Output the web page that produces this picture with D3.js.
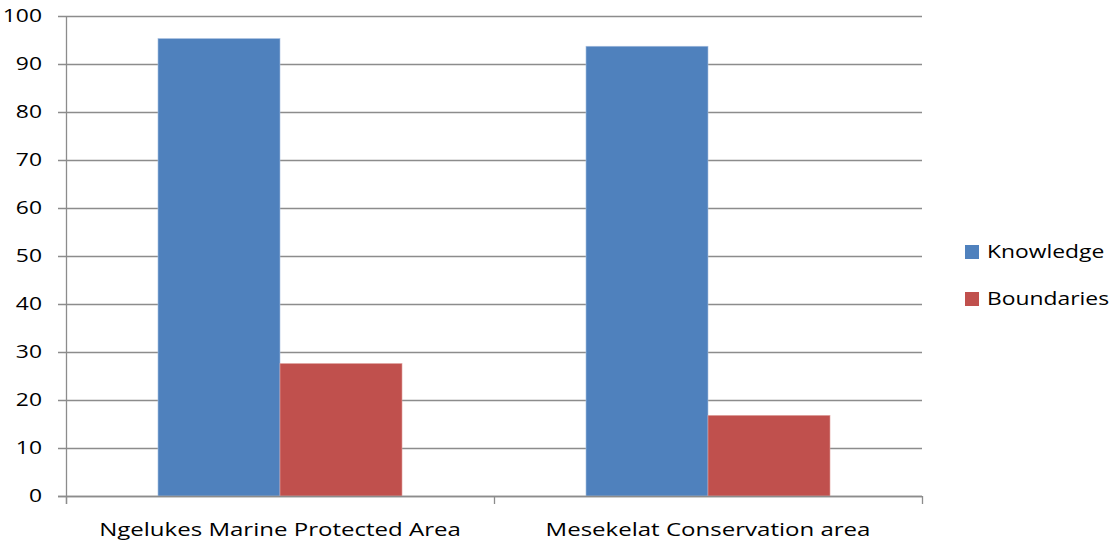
<!DOCTYPE html>
<html><head><meta charset="utf-8">
<script src="https://cdn.jsdelivr.net/npm/d3@7"></script>
<style>body{margin:0;background:#fff}svg text{font-family:"Open Sans",sans-serif;fill:#000}</style>
</head><body><svg id="c" width="1110" height="542"></svg>
<script>
const categories = ["Ngelukes Marine Protected Area", "Mesekelat Conservation area"];
const seriesNames = ["Knowledge", "Boundaries"];
const knowledge = [95.3, 93.7];
const boundaries = [27.6, 16.8];
const yTicks = [0,10,20,30,40,50,60,70,80,90,100];
const colors = ["#4F81BD", "#C0504D"];

const SX = 1.27, FS = 18;
const svg = d3.select("#c");
const L = 66, R = 922, T = 16, B = 496;
const x = d3.scaleBand().domain(categories).range([L, R]).paddingInner(0).paddingOuter(0);
const xs = d3.scaleBand().domain(seriesNames).range([0, x.bandwidth()]).paddingInner(0).paddingOuter(0.754);
const y = d3.scaleLinear().domain([0, 100]).range([B, T]);

function txt(sel, fx, fy, fs = FS, sx = SX) {
  return sel.attr("transform", d => `translate(${fx(d)},${fy(d)}) scale(${sx},1)`).style("font-size", fs + "px");
}

// gridlines
svg.append("g").selectAll("line").data(yTicks).join("line")
  .attr("x1", L - 8).attr("x2", R)
  .attr("y1", d => Math.round(y(d)) + 0.5).attr("y2", d => Math.round(y(d)) + 0.5)
  .attr("stroke", "#8c8c8c").attr("stroke-width", 1.3);

// y labels
txt(svg.append("g").selectAll("text").data(yTicks).join("text"), d => 42, d => y(d))
  .attr("dy", "0.36em").attr("text-anchor", "end").text(d => d);

// bars
const data = categories.map((c, i) => ({c, vals: [knowledge[i], boundaries[i]]}));
const g = svg.append("g");
data.forEach(d => {
  g.selectAll(null).data(seriesNames.map((s, j) => ({s, v: d.vals[j], j}))).join("rect")
    .attr("x", e => x(d.c) + xs(e.s))
    .attr("width", xs.bandwidth())
    .attr("y", e => y(e.v))
    .attr("height", e => B - y(e.v))
    .attr("fill", e => colors[e.j])
    .attr("stroke", e => e.j === 0 ? "#a9c0e0" : "#e0a3a1").attr("stroke-width", 0.6);
});

// axes lines
svg.append("line").attr("x1", L + 0.5).attr("x2", L + 0.5).attr("y1", T).attr("y2", B + 8)
  .attr("stroke", "#8c8c8c").attr("stroke-width", 1.3);
svg.append("line").attr("x1", L - 8).attr("x2", R).attr("y1", B + 0.5).attr("y2", B + 0.5)
  .attr("stroke", "#8c8c8c").attr("stroke-width", 1.3);
const xTickPos = [L, L + x.bandwidth(), R];
svg.append("g").selectAll("line").data(xTickPos).join("line")
  .attr("x1", d => Math.round(d) + 0.5).attr("x2", d => Math.round(d) + 0.5)
  .attr("y1", B).attr("y2", B + 8).attr("stroke", "#8c8c8c").attr("stroke-width", 1.3);

// category labels
txt(svg.append("g").selectAll("text").data(categories).join("text"), d => x(d) + x.bandwidth() / 2, d => 536, 18.5, 1.3)
  .attr("text-anchor", "middle").text(d => d);

// legend
const lg = svg.append("g");
seriesNames.forEach((s, i) => {
  const yy = 252 + i * 47;
  lg.append("rect").attr("x", 965).attr("y", yy - 7).attr("width", 14).attr("height", 14).attr("fill", colors[i]);
  txt(lg.append("text").datum(s), d => 987, d => yy).attr("dy", "0.36em").text(s);
});
</script></body></html>
